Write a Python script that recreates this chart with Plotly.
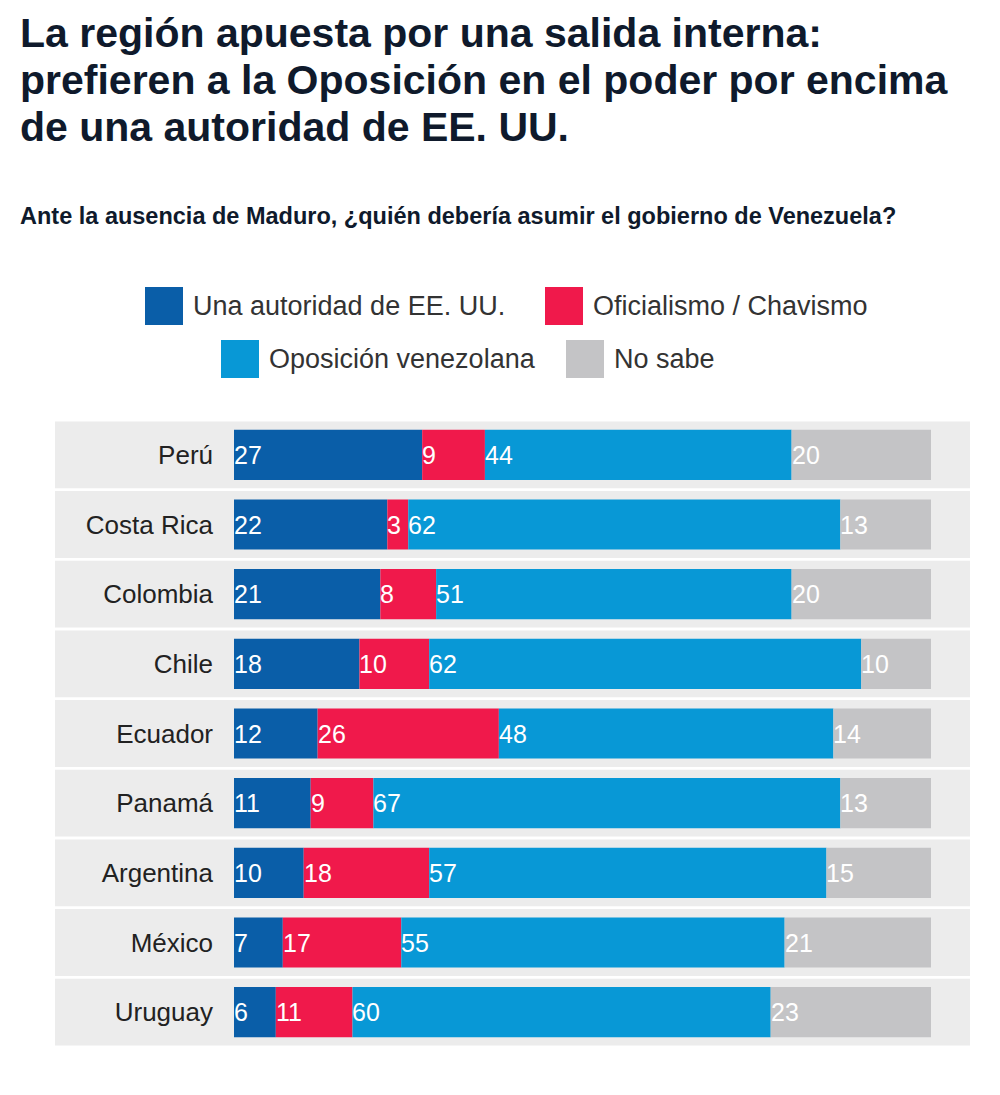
import plotly.graph_objects as go

countries = ["Perú", "Costa Rica", "Colombia", "Chile", "Ecuador", "Panamá", "Argentina", "México", "Uruguay"]
eeuu = [27, 22, 21, 18, 12, 11, 10, 7, 6]
oficialismo = [9, 3, 8, 10, 26, 9, 18, 17, 11]
oposicion = [44, 62, 51, 62, 48, 67, 57, 55, 60]
no_sabe = [20, 13, 20, 10, 14, 13, 15, 21, 23]

series = [
    ("Una autoridad de EE. UU.", eeuu, "#0a5ea8"),
    ("Oficialismo / Chavismo", oficialismo, "#f0194b"),
    ("Oposición venezolana", oposicion, "#0898d6"),
    ("No sabe", no_sabe, "#c4c4c6"),
]

OFF = 8  # page body margin
# plot area in (page) pixels
L, R, T, B = 234, 931, 420, 1047
W, H = 1000, 1095


def px(x):
    return (x - L) / (R - L)


def py(y):
    return (B - y) / (B - T)


FONT = "Liberation Sans, Arial, sans-serif"

fig = go.Figure()
shapes = []
annotations = []

for i, c in enumerate(countries):
    shapes.append(dict(type="rect", xref="paper", yref="y", x0=px(55), x1=px(970),
                       y0=i - 0.48, y1=i + 0.48, fillcolor="#ececec", line_width=0, layer="below"))

base = [0] * len(countries)
for name, vals, color in series:
    fig.add_trace(go.Bar(y=list(range(len(countries))), x=vals, base=base, orientation="h",
                         name=name, marker=dict(color=color, line_width=0), showlegend=False))
    for i, v in enumerate(vals):
        annotations.append(dict(x=base[i], y=i, xref="x", yref="y", text=str(v), showarrow=False,
                                xanchor="left", xshift=-2, font=dict(family=FONT, size=25, color="white")))
    base = [b + v for b, v in zip(base, vals)]

# legend
legend_pos = [(145, 306), (545, 306), (221, 359), (566, 359)]
for (name, vals, color), (lx, ly) in zip(series, legend_pos):
    shapes.append(dict(type="rect", xref="paper", yref="paper", x0=px(lx), x1=px(lx + 38),
                       y0=py(ly + 19), y1=py(ly - 19), fillcolor=color, line_width=0))
    annotations.append(dict(x=px(lx + 46), y=py(ly), xref="paper", yref="paper", text=name,
                            showarrow=False, xanchor="left", yanchor="middle",
                            font=dict(family=FONT, size=27, color="#333333")))

title_lines = ["La región apuesta por una salida interna:",
               "prefieren a la Oposición en el poder por encima",
               "de una autoridad de EE. UU."]
for k, line in enumerate(title_lines):
    annotations.append(dict(x=px(18), y=py(33 + 47 * k), xref="paper", yref="paper",
                            text="<b>" + line + "</b>", showarrow=False, xanchor="left", yanchor="middle",
                            font=dict(family=FONT, size=41, color="#0f1a2c")))
annotations.append(dict(x=px(18), y=py(216), xref="paper", yref="paper",
                        text="<b>Ante la ausencia de Maduro, ¿quién debería asumir el gobierno de Venezuela?</b>",
                        showarrow=False, xanchor="left", yanchor="middle",
                        font=dict(family=FONT, size=23.5, color="#0f1a2c")))

fig.update_layout(
    width=W, height=H, barmode="overlay", bargap=0.28,
    margin=dict(l=L - OFF, r=W - R + OFF, t=T - OFF, b=H - B + OFF),
    paper_bgcolor="white", plot_bgcolor="rgba(0,0,0,0)",
    xaxis=dict(range=[0, 100], visible=False, fixedrange=True),
    yaxis=dict(range=[len(countries) - 0.5, -0.5], tickmode="array",
               tickvals=list(range(len(countries))), ticktext=countries,
               showgrid=False, zeroline=False, showline=False, ticks="", ticklabelstandoff=20,
               tickfont=dict(family=FONT, size=26, color="#222222")),
    shapes=shapes, annotations=annotations,
)

fig.write_html("out.html")
